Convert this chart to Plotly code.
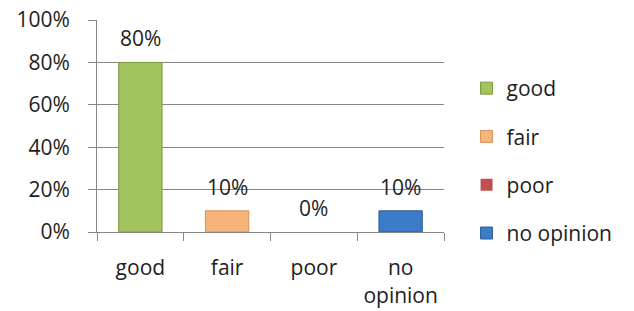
import plotly.graph_objects as go

categories = ["good", "fair", "poor", "no opinion"]
tick_labels = ["good", "fair", "poor", "no<br>opinion"]
values = [0.80, 0.10, 0.00, 0.10]
colors = ["#A2C35E", "#F6B47A", "#C0504D", "#3C7BC6"]
line_colors = ["#7A9A3E", "#D8925A", "#9A3B38", "#2C5F9E"]

FONT = "Open Sans"
TXT = "#1e1e1e"

fig = go.Figure()
for cat, lab, v, c, lc in zip(categories, tick_labels, values, colors, line_colors):
    fig.add_trace(go.Bar(
        x=[lab], y=[v], name=cat, legendgroup=cat,
        marker=dict(color=c, line=dict(color=lc, width=1 if v > 0 else 0)),
        width=0.5,
    ))
    fig.add_annotation(
        x=lab, y=v, text=f"{v:.0%}", showarrow=False,
        yanchor="bottom", yshift=8,
        font=dict(size=21, family=FONT, color=TXT),
    )

fig.update_layout(
    width=634, height=311,
    margin=dict(l=97, r=190, t=20, b=79, autoexpand=False),
    paper_bgcolor="white", plot_bgcolor="white",
    barmode="overlay",
    font=dict(family=FONT, size=21, color=TXT),
    showlegend=True,
    legend=dict(
        x=1.065, xanchor="left", y=0.335, yanchor="middle",
        font=dict(size=21, family=FONT, color=TXT),
        tracegroupgap=18, traceorder="grouped",
        itemwidth=30,
    ),
)
fig.update_xaxes(
    type="category", categoryorder="array", categoryarray=tick_labels,
    showline=True, linecolor="#868686", linewidth=1,
    ticks="outside", tickson="boundaries", ticklen=8, tickcolor="#868686",
    showgrid=False, ticklabelstandoff=17, automargin=False,
    tickfont=dict(size=21, family=FONT, color=TXT),
)
fig.update_yaxes(
    range=[0, 1], dtick=0.2, tickformat=".0%",
    showline=True, linecolor="#868686", linewidth=1,
    ticks="outside", ticklen=8, tickcolor="#868686",
    showgrid=True, gridcolor="#868686", gridwidth=1,
    zeroline=False, ticklabelstandoff=14, automargin=False,
    tickfont=dict(size=21, family=FONT, color=TXT),
)

fig.write_html("out.html", config={"displayModeBar": False},
               post_script="document.body.style.margin='0';")
